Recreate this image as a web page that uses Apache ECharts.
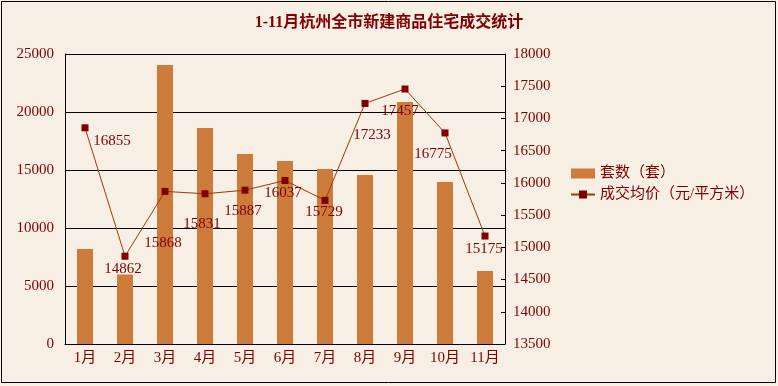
<!DOCTYPE html>
<html><head><meta charset="utf-8">
<script src="https://cdn.jsdelivr.net/npm/echarts@6/dist/echarts.min.js"></script>
<style>html,body{margin:0;padding:0;background:#F7EEE4;}#c{width:778px;height:386px;}</style>
</head><body><div id="c"></div>
<script>
const categories = ['1月','2月','3月','4月','5月','6月','7月','8月','9月','10月','11月'];
const unitsSold = [8200, 6000, 24050, 18620, 16380, 15780, 15090, 14570, 20860, 13970, 6300];
const avgPrice = [16855, 14862, 15868, 15831, 15887, 16037, 15729, 17233, 17457, 16775, 15175];
const leftTicks = {min: 0, max: 25000, interval: 5000};
const rightTicks = {min: 13500, max: 18000, interval: 500};
const priceLabelOffsets = [[27,13],[-2,13],[-2,52],[-3,30],[-2,21],[-2,13],[-1,12],[7,32],[-5,22],[-12,21],[-1,13]];

const FONT = "'Liberation Serif', 'Noto Sans CJK SC', serif";
const TXT = '#800000';
const chart = echarts.init(document.getElementById('c'));
chart.setOption({
  backgroundColor: '#F7EEE4',
  animation: false,
  textStyle: {fontFamily: FONT},
  title: {
    text: '1-11月杭州全市新建商品住宅成交统计',
    left: 'center', top: 10,
    textStyle: {fontFamily: FONT, fontSize: 16, fontWeight: 'bold', color: TXT}
  },
  graphic: [{type: 'rect', shape: {x: 1.5, y: 1.5, width: 774, height: 381}, style: {fill: null, stroke: '#000', lineWidth: 1}, silent: true}],
  legend: {
    orient: 'vertical', left: 565, top: 161, itemGap: 6,
    itemWidth: 24, itemHeight: 10,
    textStyle: {fontFamily: FONT, fontSize: 15, color: TXT},
    data: [{name: '套数（套）', icon: 'rect'}, {name: '成交均价（元/平方米）'}]
  },
  grid: {left: 65, right: 273, top: 54, bottom: 42, containLabel: false},
  xAxis: {
    type: 'category', data: categories, boundaryGap: true,
    axisLine: {lineStyle: {color: '#000', width: 1}},
    axisTick: {inside: true, length: 4, lineStyle: {color: '#000'}},
    axisLabel: {fontFamily: FONT, fontSize: 15, color: TXT, margin: 7}
  },
  yAxis: [{
    type: 'value', min: leftTicks.min, max: leftTicks.max, interval: leftTicks.interval,
    axisLine: {show: true, lineStyle: {color: '#000'}},
    axisTick: {show: false},
    splitLine: {show: true, lineStyle: {color: '#000', width: 1}},
    axisLabel: {fontFamily: FONT, fontSize: 15, color: TXT, margin: 11, formatter: v => String(v)}
  }, {
    type: 'value', min: rightTicks.min, max: rightTicks.max, interval: rightTicks.interval,
    position: 'right',
    axisLine: {show: true, lineStyle: {color: '#000'}},
    axisTick: {show: true, inside: true, length: 4, lineStyle: {color: '#000'}},
    splitLine: {show: false},
    axisLabel: {fontFamily: FONT, fontSize: 15, color: TXT, margin: 8, formatter: v => String(v)}
  }],
  series: [{
    name: '套数（套）', type: 'bar', yAxisIndex: 0, barWidth: 16,
    itemStyle: {color: '#CD7B3A'},
    data: unitsSold
  }, {
    name: '成交均价（元/平方米）', type: 'line', yAxisIndex: 1,
    symbol: 'rect', symbolSize: 7,
    lineStyle: {color: '#9A3A0A', width: 1},
    itemStyle: {color: '#800000'},
    label: {show: true, position: 'inside', fontFamily: FONT, fontSize: 15, color: TXT},
    data: avgPrice.map((v, i) => ({value: v, label: {offset: priceLabelOffsets[i]}}))
  }]
});
</script></body></html>
